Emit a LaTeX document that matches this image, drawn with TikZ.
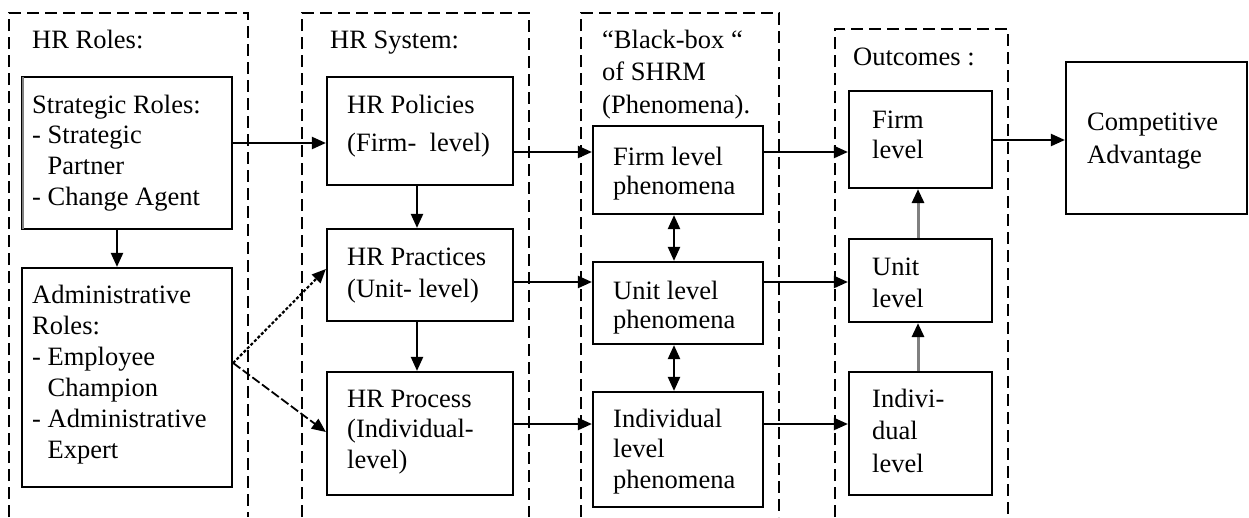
\documentclass[tikz,border=0pt]{standalone}
\usepackage{fontspec}
\setmainfont{Liberation Serif}
\usetikzlibrary{arrows.meta,fit}
\newcommand{\ml}[2][31]{\fontsize{26.5}{#1}\selectfont\begin{tabular}[t]{@{}l@{}}#2\end{tabular}}
\begin{document}
\begin{tikzpicture}[x=1pt,y=-1pt,
  tip/.style={-{Triangle[length=14pt,width=12pt]}},
  box/.style={draw, line width=2.2pt, inner sep=0pt},
  txt/.style={anchor=base west, inner sep=0pt},
  group/.style={line width=2pt, dash pattern=on 12pt off 6pt},
  arr/.style={line width=2.2pt, tip},
  darr/.style={line width=2.2pt, {Triangle[length=14pt,width=12pt]}-{Triangle[length=14pt,width=12pt]}},
  garr/.style={draw=gray, line width=3pt, -{Triangle[length=14pt,width=12pt,black]}},
  dotarr/.style={line width=2.2pt, dash pattern=on 3pt off 2pt, tip},
  dasharr/.style={line width=1.8pt, dash pattern=on 9pt off 3pt, tip}]
\useasboundingbox (0,0) rectangle (1249,517);
\fill[white] (0,0) rectangle (1249,517);

% dashed groups (open at the bottom)
\draw[group] (9,517) -- (9,13) -- (248,13) -- (248,517);
\draw[group] (302,517) -- (302,13) -- (529,13) -- (529,517);
\draw[group] (581,517) -- (581,13) -- (779,13) -- (779,517);
\draw[group] (835,517) -- (835,29) -- (1008,29) -- (1008,517);

% group titles
\node[txt] (t1) at (32,48) {\ml{HR Roles:}};
\node[txt] (t2) at (330,48) {\ml{HR System:}};
\node[txt] (t3) at (602,48) {\ml[32.5]{“Black-box “\\of SHRM\\(Phenomena).}};
\node[txt] (t4) at (853,65) {\ml{Outcomes :}};

% boxes
\node[box, fit={(22,77) (232,229)}] (strat) {};
\draw[gray, line width=1.5pt] ([xshift=2.2pt,yshift=-1pt]strat.north west) -- ([xshift=2.2pt,yshift=1pt]strat.south west);
\node[box, fit={(22,268) (232,487)}] (admin) {};
\node[box, fit={(327,77) (513,185)}] (pol) {};
\node[box, fit={(327,229) (513,321)}] (prac) {};
\node[box, fit={(327,372) (513,495)}] (proc) {};
\node[box, fit={(593,126) (763,214)}] (fph) {};
\node[box, fit={(593,262) (763,344)}] (uph) {};
\node[box, fit={(593,392) (763,507)}] (iph) {};
\node[box, fit={(849,91) (992,188)}] (fl) {};
\node[box, fit={(849,239) (992,322)}] (ul) {};
\node[box, fit={(849,372) (992,495)}] (il) {};
\node[box, fit={(1066,62) (1247,214)}] (comp) {};

% box texts
\node[txt] (strat-t) at (32,113) {\ml[30.7]{Strategic Roles:\\- Strategic\\\phantom{- }Partner\\- Change Agent}};
\node[txt] (admin-t) at (32,303) {\ml[31]{Administrative\\Roles:\\- Employee\\\phantom{- }Champion\\- Administrative\\\phantom{- }Expert}};
\node[txt] (pol-t) at (347,113) {\ml[38]{HR Policies\\(Firm-~ level)}};
\node[txt] (prac-t) at (347,265) {\ml[32]{HR Practices\\(Unit- level)}};
\node[txt] (proc-t) at (347,407) {\ml[30.5]{HR Process\\(Individual-\\level)}};
\node[txt] (fph-t) at (613,165) {\ml[29]{Firm level\\phenomena}};
\node[txt] (uph-t) at (613,299) {\ml[29]{Unit level\\phenomena}};
\node[txt] (iph-t) at (613,427) {\ml[30.5]{Individual\\level\\phenomena}};
\node[txt] (fl-t) at (872,128) {\ml[30]{Firm\\level}};
\node[txt] (ul-t) at (872,275) {\ml[32]{Unit\\level}};
\node[txt] (il-t) at (872,407) {\ml[32.5]{Indivi-\\dual\\level}};
\node[txt] (comp-t) at (1087,130) {\ml[33]{Competitive\\Advantage}};

% connectors
\draw[arr] (strat.east |- 0,143) -- (pol.west |- 0,143);
\draw[arr] (strat.south -| 117,0) -- (admin.north -| 117,0);
\coordinate (split) at (admin.east |- 0,363);
\draw[dotarr] (split) -- (prac.west |- 0,269);
\draw[dasharr] (split) -- (proc.west |- 0,432);
\draw[arr] (pol.south -| 417,0) -- (prac.north -| 417,0);
\draw[arr] (prac.south -| 417,0) -- (proc.north -| 417,0);
\draw[arr] (pol.east |- 0,152) -- (fph.west |- 0,152);
\draw[arr] (prac.east |- 0,282) -- (uph.west |- 0,282);
\draw[arr] (proc.east |- 0,424) -- (iph.west |- 0,424);
\draw[darr] (fph.south -| 674,0) -- (uph.north -| 674,0);
\draw[darr] (uph.south -| 674,0) -- (iph.north -| 674,0);
\draw[arr] (fph.east |- 0,152) -- (fl.west |- 0,152);
\draw[arr] (uph.east |- 0,282) -- (ul.west |- 0,282);
\draw[arr] (iph.east |- 0,424) -- (il.west |- 0,424);
\draw[garr] (il.north -| 918,0) -- (ul.south -| 918,0);
\draw[garr] (ul.north -| 918,0) -- (fl.south -| 918,0);
\draw[arr] (fl.east |- 0,140) -- (comp.west |- 0,140);
\end{tikzpicture}
\end{document}
